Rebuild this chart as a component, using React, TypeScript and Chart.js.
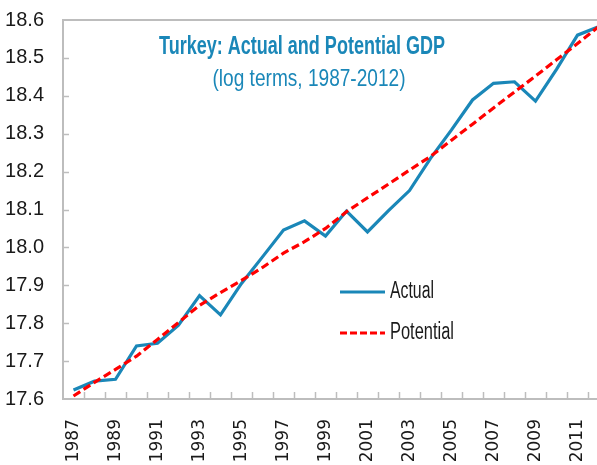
import React, { useEffect, useRef } from 'react';
import { Chart, registerables } from 'chart.js';

Chart.register(...registerables);

const YEARS = ['1987', '1988', '1989', '1990', '1991', '1992', '1993', '1994', '1995', '1996', '1997', '1998', '1999', '2000', '2001', '2002', '2003', '2004', '2005', '2006', '2007', '2008', '2009', '2010', '2011', '2012'];
const ACTUAL = [17.624, 17.647, 17.652, 17.740, 17.747, 17.795, 17.873, 17.822, 17.905, 17.975, 18.046, 18.070, 18.030, 18.096, 18.041, 18.097, 18.150, 18.235, 18.310, 18.389, 18.433, 18.437, 18.386, 18.470, 18.560, 18.582];
const POTENTIAL = [17.608, 17.644, 17.678, 17.713, 17.757, 17.802, 17.847, 17.881, 17.913, 17.947, 17.985, 18.015, 18.050, 18.094, 18.131, 18.167, 18.204, 18.240, 18.283, 18.325, 18.368, 18.410, 18.452, 18.495, 18.538, 18.582];
const Y_MIN = 17.6;
const Y_MAX = 18.6;
const Y_STEP = 0.1;
const TITLE = 'Turkey: Actual and Potential GDP';
const SUBTITLE = '(log terms, 1987-2012)';
const SERIES_NAMES = ['Actual', 'Potential'];

const BLUE = '#1a87b8';
const RED = '#ff0000';
const AXIS_GRAY = '#bdbdbd';
const TEXT = '#1a1a1a';
const SANS = '"Liberation Sans", Arial, sans-serif';
const NARROW = '"Liberation Sans Narrow", "Liberation Sans", Arial, sans-serif';

function fitText(ctx: CanvasRenderingContext2D, text: string, font: string, color: string, x: number, y: number, targetWidth: number, align: CanvasTextAlign) {
  ctx.save();
  ctx.font = font;
  const w = ctx.measureText(text).width;
  const s = targetWidth / w;
  ctx.translate(x, y);
  ctx.scale(s, 1);
  ctx.textAlign = align;
  ctx.textBaseline = 'middle';
  ctx.fillStyle = color;
  ctx.fillText(text, 0, 0);
  ctx.restore();
}

const decorations = {
  id: 'decorations',
  afterDraw(chart: any) {
    const { ctx, chartArea: a, scales } = chart;
    const xs = scales.x;
    const ys = scales.y;
    ctx.save();
    ctx.strokeStyle = AXIS_GRAY;
    ctx.lineWidth = 2;
    ctx.beginPath();
    ctx.moveTo(a.left - 1, a.top);
    ctx.lineTo(a.right, a.top);
    ctx.stroke();
    ctx.lineWidth = 1.5;
    ys.ticks.forEach((t: any) => {
      if (t.value <= Y_MIN + 1e-6 || t.value >= Y_MAX - 1e-6) return;
      const py = Math.round(ys.getPixelForValue(t.value)) + 0.5;
      ctx.beginPath();
      ctx.moveTo(a.left, py);
      ctx.lineTo(a.left + 6, py);
      ctx.stroke();
    });
    for (let i = 1; i < YEARS.length; i++) {
      const px = Math.round((xs.getPixelForValue(i - 1) + xs.getPixelForValue(i)) / 2) + 0.5;
      ctx.beginPath();
      ctx.moveTo(px, a.bottom);
      ctx.lineTo(px, a.bottom - 7);
      ctx.stroke();
    }
    ctx.restore();

    fitText(ctx, TITLE, `bold 26px ${SANS}`, BLUE, a.left + 239, a.top + 27, 286, 'center');
    fitText(ctx, SUBTITLE, `24px ${SANS}`, BLUE, a.left + 246, a.top + 59, 193, 'center');

    const lx0 = a.left + 277;
    const lx1 = a.left + 322;
    const rows = [
      { name: SERIES_NAMES[0], color: BLUE, dash: [] as number[], y: a.top + 272, w: 44 },
      { name: SERIES_NAMES[1], color: RED, dash: [7, 3], y: a.top + 313, w: 64 },
    ];
    rows.forEach((r) => {
      ctx.save();
      ctx.strokeStyle = r.color;
      ctx.lineWidth = 3;
      ctx.setLineDash(r.dash);
      ctx.beginPath();
      ctx.moveTo(lx0, r.y);
      ctx.lineTo(lx1, r.y);
      ctx.stroke();
      ctx.restore();
      fitText(ctx, r.name, `23px ${SANS}`, TEXT, lx1 + 5, r.y, r.w, 'left');
    });
  },
};

export default function App() {
  const ref = useRef<HTMLCanvasElement | null>(null);
  useEffect(() => {
    if (!ref.current) return;
    const chart = new Chart(ref.current, {
      type: 'line',
      data: {
        labels: YEARS,
        datasets: [
          {
            label: SERIES_NAMES[1],
            data: POTENTIAL,
            borderColor: RED,
            borderWidth: 3.2,
            borderDash: [8, 4],
            pointRadius: 0,
            tension: 0,
            fill: false,
          },
          {
            label: SERIES_NAMES[0],
            data: ACTUAL,
            borderColor: BLUE,
            borderWidth: 3.2,
            pointRadius: 0,
            tension: 0,
            fill: false,
          },
        ],
      },
      options: {
        responsive: false,
        animation: false,
        layout: { padding: { top: 20, right: 3, left: 0, bottom: 0 } },
        plugins: {
          legend: { display: false },
          tooltip: { enabled: false },
          title: { display: false },
        },
        scales: {
          x: {
            type: 'category',
            offset: true,
            grid: { display: true, drawOnChartArea: false, drawTicks: false, offset: true },
            border: { display: true, color: AXIS_GRAY, width: 2 },
            ticks: {
              autoSkip: false,
              maxRotation: 90,
              minRotation: 90,
              padding: 20,
              color: TEXT,
              font: { family: '"DejaVu Sans", sans-serif', size: 17 },
              callback: (_v: any, i: number) => (i % 2 === 0 ? YEARS[i] : ''),
            },
            afterFit: (s: any) => {
              s.height = 66;
              s.paddingLeft = 0;
              s.paddingRight = 0;
            },
          },
          y: {
            min: Y_MIN,
            max: Y_MAX,
            grid: { display: true, drawOnChartArea: false, drawTicks: false },
            border: { display: true, color: AXIS_GRAY, width: 2 },
            ticks: {
              stepSize: Y_STEP,
              padding: 19,
              color: TEXT,
              font: { family: NARROW, size: 20 },
              callback: (v: any) => Number(v).toFixed(1),
            },
            afterFit: (s: any) => {
              s.width = 63;
              s.paddingTop = 0;
              s.paddingBottom = 0;
            },
          },
        },
      },
      plugins: [decorations],
    } as any);
    return () => chart.destroy();
  }, []);

  return (
    <div style={{ position: 'fixed', left: 0, top: 0, width: 597, height: 465, overflow: 'hidden', background: '#fff' }}>
      <canvas ref={ref} width={612} height={465} style={{ display: 'block', width: 612, height: 465 }} />
    </div>
  );
}
